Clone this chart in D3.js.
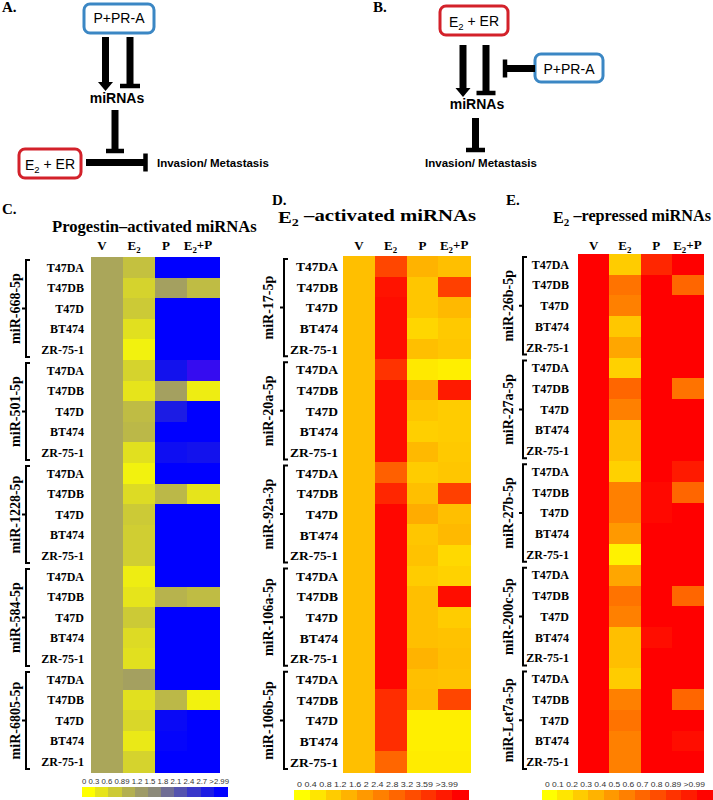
<!DOCTYPE html>
<html>
<head>
<meta charset="utf-8">
<script src="https://cdn.jsdelivr.net/npm/d3@7"></script>
<style>
  body { margin: 0; background: #fff; }
  svg { display: block; }
</style>
</head>
<body>
<div id="fig"></div>
<script>
const cellLines = ['T47DA', 'T47DB', 'T47D', 'BT474', 'ZR-75-1']
const treatments = ['V', 'E2', 'P', 'E2+P']

const mirnasC = ['miR-668-5p', 'miR-501-5p', 'miR-1228-5p', 'miR-584-5p', 'miR-6805-5p']
const mirnasD = ['miR-17-5p', 'miR-20a-5p', 'miR-92a-3p', 'miR-106a-5p', 'miR-106b-5p']
const mirnasE = ['miR-26b-5p', 'miR-27a-5p', 'miR-27b-5p', 'miR-200c-5p', 'miR-Let7a-5p']

// fold change per row: [V, E2, P, E2+P]
const valuesC = [
  [1, 0.7, 3, 3], [1, 0.5, 1.1, 0.75], [1, 0.6, 3, 3], [1, 0.35, 3, 3], [1, 0.15, 3, 3],
  [1, 0.5, 2.8, 3.3], [1, 0.3, 1.1, 0.2], [1, 0.75, 2.7, 3], [1, 0.8, 3, 3], [1, 0.35, 2.85, 2.8],
  [1, 0.15, 3, 3], [1, 0.4, 0.8, 0.3], [1, 0.6, 3, 3], [1, 0.55, 3, 3], [1, 0.55, 3, 3],
  [1, 0.2, 3, 3], [1, 0.3, 0.85, 0.75], [1, 0.6, 3, 3], [1, 0.4, 3, 3], [1, 0.35, 3, 3],
  [1, 1.1, 3, 3], [1, 0.35, 0.8, 0.15], [1, 0.45, 2.9, 3], [1, 0.25, 2.95, 3], [1, 0.5, 3, 3]
]
const valuesD = [
  [1, 2.9, 1.2, 1.0], [1, 3.7, 0.9, 3.0], [1, 3.8, 0.9, 1.1], [1, 3.8, 0.65, 0.85], [1, 3.8, 1.0, 0.9],
  [1, 3.2, 0.35, 0.25], [1, 3.8, 1.2, 3.6], [1, 3.8, 0.9, 0.8], [1, 3.8, 0.75, 0.8], [1, 3.8, 1.1, 0.85],
  [1, 2.5, 0.8, 0.9], [1, 3.4, 1.0, 3.0], [1, 3.9, 1.3, 1.0], [1, 3.9, 0.9, 1.1], [1, 3.9, 0.95, 0.6],
  [1, 3.9, 0.8, 0.7], [1, 3.9, 1.0, 3.8], [1, 3.9, 1.0, 0.8], [1, 3.9, 1.0, 0.95], [1, 3.9, 1.2, 1.0],
  [1, 3.9, 1.0, 0.95], [1, 3.3, 1.05, 2.9], [1, 3.3, 0.25, 0.25], [1, 3.3, 0.25, 0.25], [1, 2.4, 0.3, 0.3]
]
const valuesE = [
  [1, 0.2, 0.85, 1], [1, 0.55, 1, 0.6], [1, 0.5, 1, 1], [1, 0.22, 1, 1], [1, 0.35, 1, 1],
  [1, 0.18, 1, 1], [1, 0.6, 1, 0.55], [1, 0.5, 1, 1], [1, 0.25, 1, 1], [1, 0.25, 1, 1],
  [1, 0.18, 1, 0.9], [1, 0.5, 0.97, 0.6], [1, 0.5, 0.97, 1], [1, 0.4, 1, 1], [1, 0.05, 1, 1],
  [1, 0.35, 1, 1], [1, 0.55, 1, 0.6], [1, 0.5, 1, 1], [1, 0.25, 0.95, 1], [1, 0.25, 1, 1],
  [1, 0.2, 1, 1], [1, 0.5, 1, 0.6], [1, 0.55, 1, 1], [1, 0.5, 1, 0.95], [1, 0.5, 1, 1]
]

const ticksC = ['0', '0.3', '0.6', '0.89', '1.2', '1.5', '1.8', '2.1', '2.4', '2.7', '>2.99']
const ticksD = ['0', '0.4', '0.8', '1.2', '1.6', '2', '2.4', '2.8', '3.2', '3.59', '>3.99']
const ticksE = ['0', '0.1', '0.2', '0.3', '0.4', '0.5', '0.6', '0.7', '0.8', '0.89', '>0.99']

const SERIF = '"Liberation Serif", "Times New Roman", serif'
const SANS = '"Liberation Sans", Arial, sans-serif'

const svg = d3.select('#fig').append('svg')
  .attr('width', 713).attr('height', 800)
  .attr('viewBox', '0 0 713 800')

// write text with "E2" rendered as E + subscript 2
function subText (sel, str) {
  str.split('E2').forEach((part, i) => {
    if (i > 0) {
      sel.append('tspan').text('E')
      sel.append('tspan').text('2').attr('font-size', '0.68em').attr('dy', '0.3em')
      if (part) sel.append('tspan').attr('dy', '-0.3em').text(part)
    } else if (part) {
      sel.append('tspan').text(part)
    }
  })
  return sel
}

// ---------- schematic A / B ----------
const diag = svg.append('g')

function box (x, y, w, h, color, label, tx, ty) {
  diag.append('rect')
    .attr('x', x).attr('y', y).attr('width', w).attr('height', h)
    .attr('rx', 6).attr('fill', '#fff')
    .attr('stroke', color).attr('stroke-width', 3)
  subText(diag.append('text')
    .attr('x', tx).attr('y', ty)
    .attr('text-anchor', 'middle')
    .attr('font-family', SANS).attr('font-size', 14), label)
}

function arrowDown (x, y1, y2) {
  diag.append('line')
    .attr('x1', x).attr('x2', x).attr('y1', y1).attr('y2', y2 - 8)
    .attr('stroke', '#000').attr('stroke-width', 7)
  diag.append('polygon')
    .attr('points', `${x - 7.5},${y2 - 9} ${x + 7.5},${y2 - 9} ${x},${y2}`)
}

function tee (x1, y1, x2, y2, half) {
  diag.append('line')
    .attr('x1', x1).attr('y1', y1).attr('x2', x2).attr('y2', y2)
    .attr('stroke', '#000').attr('stroke-width', 7)
  const vertical = x1 === x2
  diag.append('line')
    .attr('x1', vertical ? x2 - half : x2).attr('x2', vertical ? x2 + half : x2)
    .attr('y1', vertical ? y2 : y2 - half).attr('y2', vertical ? y2 : y2 + half)
    .attr('stroke', '#000').attr('stroke-width', 4.5)
}

function boldSans (x, y, str, size, anchor) {
  diag.append('text')
    .attr('x', x).attr('y', y)
    .attr('text-anchor', anchor || 'middle')
    .attr('font-family', SANS).attr('font-weight', 'bold')
    .attr('font-size', size).text(str)
}

function letter (x, y, str) {
  svg.append('text')
    .attr('x', x).attr('y', y)
    .attr('font-family', SERIF).attr('font-weight', 'bold')
    .attr('font-size', 15).text(str)
}

// A
letter(2, 12, 'A.')
box(84, 4, 70, 29, '#3b87c4', 'P+PR-A', 119, 23)
arrowDown(105.5, 37, 91)
tee(130, 37, 130, 86, 10)
boldSans(117, 103, 'miRNAs', 14)
tee(115, 110, 115, 151, 9)
box(19, 149, 62, 29, '#d3212a', 'E2 + ER', 50, 170)
tee(86, 162.5, 145.5, 162.5, 9)
boldSans(157, 167, 'Invasion/ Metastasis', 11.5, 'start')

// B
letter(373, 12, 'B.')
box(440, 6, 68, 29, '#d3212a', 'E2 + ER', 474, 27)
arrowDown(463, 45, 97)
tee(486, 45, 486, 93, 9.5)
box(535, 54, 68, 28, '#3b87c4', 'P+PR-A', 569, 74)
tee(535, 68.5, 505, 68.5, 9)
boldSans(477, 109, 'miRNAs', 14)
tee(475.5, 118, 475.5, 150, 9.5)
boldSans(481, 167, 'Invasion/ Metastasis', 11.5)

// ---------- heatmaps ----------
const colorC = d3.scaleLinear()
  .domain([0, 1, 1.5, 3, 3.5])
  .range(['#ffff00', '#aaa65a', '#8c8a7a', '#0000ff', '#5a14e6'])
  .clamp(true)
const colorD = d3.scaleLinear().domain([0, 4]).range(['#ffff00', '#ff0000']).clamp(true)
const colorE = d3.scaleLinear().domain([0, 1]).range(['#ffff00', '#ff0000']).clamp(true)

function drawHeatmap (cfg) {
  const g = svg.append('g')
  const x = d3.scaleBand().domain(treatments).range([cfg.x0, cfg.x1])
  const rows = d3.range(cfg.values.length)
  const y = d3.scaleBand().domain(rows).range([cfg.y0, cfg.y1])

  letter(cfg.letterX, cfg.letterY, cfg.letter)

  const title = subText(g.append('text')
    .attr('x', cfg.titleX).attr('y', cfg.titleY)
    .attr('font-family', SERIF).attr('font-weight', 'bold')
    .attr('font-size', 16.6), cfg.title)
  if (cfg.titleLen) title.attr('textLength', cfg.titleLen).attr('lengthAdjust', 'spacingAndGlyphs')

  g.selectAll('text.head').data(treatments).join('text')
    .attr('class', 'head')
    .attr('x', d => x(d) + x.bandwidth() / 2 + cfg.headOff)
    .attr('y', 250)
    .attr('text-anchor', 'middle')
    .attr('font-family', SERIF).attr('font-weight', 'bold')
    .attr('font-size', 13)
    .each(function (d) { subText(d3.select(this), d) })

  const cells = cfg.values.flatMap((row, r) => row.map((v, c) => ({ r, c, v })))
  g.selectAll('rect.cell').data(cells).join('rect')
    .attr('class', 'cell')
    .attr('x', d => x(treatments[d.c]))
    .attr('y', d => y(d.r))
    .attr('width', x.bandwidth() + 0.6)
    .attr('height', y.bandwidth() + 0.6)
    .attr('shape-rendering', 'crispEdges')
    .attr('fill', d => cfg.color(d.v))

  g.selectAll('text.row').data(rows).join('text')
    .attr('class', 'row')
    .attr('x', cfg.labelX)
    .attr('y', r => y(r) + y.bandwidth() / 2)
    .attr('dy', '0.36em')
    .attr('text-anchor', 'end')
    .attr('font-family', SERIF).attr('font-weight', 'bold')
    .attr('font-size', cfg.labelSize)
    .text(r => cellLines[r % cellLines.length])

  // brackets + miRNA names
  const groups = cfg.groups.map((name, i) => {
    const top = y(i * 5) + 3
    const bottom = y(i * 5 + 4) + y.bandwidth() - 3
    return { name, top, bottom, mid: (top + bottom) / 2 }
  })
  const bx = cfg.bracketX
  g.selectAll('path.bracket').data(groups).join('path')
    .attr('class', 'bracket')
    .attr('fill', 'none').attr('stroke', '#000').attr('stroke-width', 2)
    .attr('d', d => `M${bx + 4},${d.top}H${bx}V${d.bottom}H${bx + 4}M${bx},${d.mid}H${bx - 4}`)
  g.selectAll('text.group').data(groups).join('text')
    .attr('class', 'group')
    .attr('transform', d => `translate(${cfg.groupX},${d.mid}) rotate(-90)`)
    .attr('dy', '0.35em')
    .attr('text-anchor', 'middle')
    .attr('font-family', SERIF).attr('font-weight', 'bold')
    .attr('font-size', 14)
    .text(d => d.name)

  // colour key: blocks from the scale, tick labels as one spaced row
  const cb = d3.scaleBand().domain(cfg.ticks).range([cfg.cbX0, cfg.cbX1])
  g.selectAll('rect.key').data(cfg.ticks).join('rect')
    .attr('class', 'key')
    .attr('x', d => cb(d)).attr('y', cfg.cbY)
    .attr('width', cb.bandwidth() + 0.5).attr('height', 10)
    .attr('shape-rendering', 'crispEdges')
    .attr('fill', d => cfg.color(parseFloat(d.replace('>', ''))))
  g.append('text')
    .attr('x', cfg.keyX).attr('y', cfg.cbY - 3)
    .attr('textLength', cfg.keyLen).attr('lengthAdjust', 'spacingAndGlyphs')
    .attr('font-family', SANS)
    .attr('font-size', 8).attr('fill', '#333')
    .text(cfg.ticks.join(' '))
}

drawHeatmap({
  letter: 'C.', letterX: 2, letterY: 214,
  title: 'Progestin–activated miRNAs', titleX: 52, titleY: 232,
  x0: 91, x1: 219, y0: 257, y1: 772, headOff: -5,
  values: valuesC, color: colorC, groups: mirnasC,
  labelX: 84, labelSize: 12, bracketX: 26, groupX: 15,
  ticks: ticksC, cbX0: 82, cbX1: 227, cbY: 787, keyX: 82, keyLen: 147
})

drawHeatmap({
  letter: 'D.', letterX: 272, letterY: 205,
  title: 'E2\u00a0–activated miRNAs', titleX: 278, titleY: 223, titleLen: 198,
  x0: 343, x1: 470, y0: 256, y1: 772, headOff: 0,
  values: valuesD, color: colorD, groups: mirnasD,
  labelX: 338, labelSize: 13.5, bracketX: 284, groupX: 268,
  ticks: ticksD, cbX0: 294, cbX1: 468, cbY: 790, keyX: 297, keyLen: 161
})

drawHeatmap({
  letter: 'E.', letterX: 506, letterY: 205,
  title: 'E2\u00a0–repressed miRNAs', titleX: 553, titleY: 223, titleLen: 158,
  x0: 578, x1: 703, y0: 254, y1: 772, headOff: 0,
  values: valuesE, color: colorE, groups: mirnasE,
  labelX: 569, labelSize: 12, bracketX: 523, groupX: 508,
  ticks: ticksE, cbX0: 542, cbX1: 712, cbY: 790, keyX: 545, keyLen: 160
})
</script>
</body>
</html>
